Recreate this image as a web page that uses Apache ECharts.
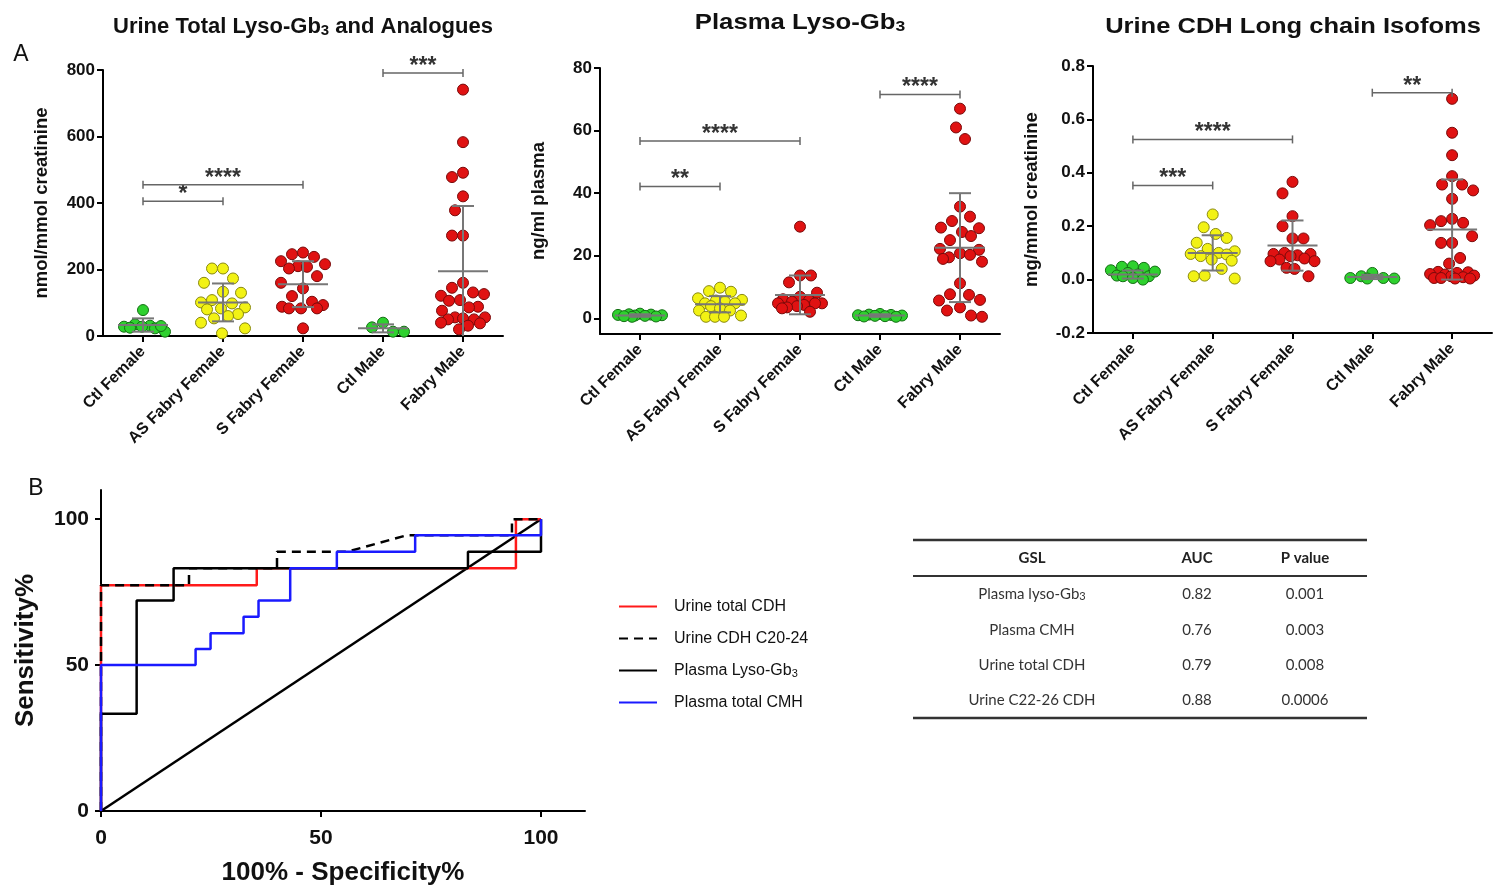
<!DOCTYPE html>
<html>
<head>
<meta charset="utf-8">
<script src="https://cdn.jsdelivr.net/npm/echarts@6/dist/echarts.min.js"></script>
<style>html,body{margin:0;padding:0;background:#fff}#main{width:1493px;height:887px}</style>
</head>
<body>
<div id="main"></div>
<script>
var groups = ['Ctl Female', 'AS Fabry Female', 'S Fabry Female', 'Ctl Male', 'Fabry Male'];

// urine total lyso-Gb3 (nmol/mmol creatinine)
var ctlF1 = [78, 35, 31, 28, 28, 25, 23, 13, 30];
var asF1 = [203, 203, 173, 160, 133, 130, 108, 101, 98, 86, 80, 83, 66, 60, 53, 40, 23, 8];
var sF1 = [251, 246, 238, 225, 216, 210, 208, 203, 180, 160, 143, 120, 103, 93, 88, 83, 83, 83, 23];
var ctlM1 = [40, 26, 13, 13];
var fM1 = [741, 583, 491, 478, 420, 378, 302, 302, 160, 145, 131, 126, 121, 108, 106, 88, 86, 76, 56, 56, 53, 50, 50, 40, 38, 31, 20];
var mean1 = [33, 101, 156, 23, 195];
var sd1 = [20, 57, 69, 12, 196];
var sig1 = [[0, 1, 405, '*'], [0, 2, 455, '****'], [3, 4, 791, '***']];
var ticks1 = [0, 200, 400, 600, 800];

// plasma lyso-Gb3 (ng/ml)
var ctlF2 = [1.5, 1.2, 1.0, 0.8, 0.6, 1.3, 0.9, 0.5, 1.1, 0.7];
var asF2 = [9.8, 8.7, 8.5, 6.4, 5.9, 5.7, 5.3, 4.8, 4.8, 3.9, 3.2, 2.5, 2.5, 0.9, 0.5, 0.5, 0.5];
var sF2 = [29.3, 13.7, 13.7, 11.5, 8.2, 6.9, 6.1, 5.7, 5.3, 4.8, 4.8, 4.8, 4.3, 3.9, 3.5, 3.2, 2.1];
var ctlM2 = [1.4, 1.1, 0.9, 0.7, 0.5, 1.2, 0.8, 1.0, 0.6];
var fM2 = [67, 61, 57.3, 35.7, 32.5, 31.1, 29, 28.8, 27.6, 26.3, 25, 22.2, 21.9, 20.8, 20.3, 19.5, 19, 18.1, 11.2, 7.7, 7.5, 5.9, 5.7, 3.5, 2.5, 0.9, 0.5];
var mean2 = [0.9, 4.5, 7.5, 0.9, 22.6];
var sd2 = [0.4, 2.6, 6.2, 0.4, 17.4];
var sig2 = [[0, 1, 42.1, '**'], [0, 2, 56.7, '****'], [3, 4, 71.5, '****']];
var ticks2 = [0, 20, 40, 60, 80];

// urine CDH long chain isoforms (mg/mmol creatinine)
var ctlF3 = [0.044, 0.05, 0.048, 0.035, 0.025, 0.019, 0.015, 0.0125, 0.0125, 0.006, 0.0, 0.03];
var asF3 = [0.244, 0.196, 0.171, 0.156, 0.138, 0.115, 0.106, 0.1, 0.096, 0.094, 0.088, 0.075, 0.071, 0.04, 0.015, 0.0125, 0.004];
var sF3 = [0.366, 0.323, 0.2375, 0.2, 0.154, 0.154, 0.1, 0.096, 0.096, 0.091, 0.0875, 0.079, 0.075, 0.069, 0.069, 0.044, 0.04, 0.0125];
var ctlM3 = [0.025, 0.0125, 0.006, 0.004, 0.004, 0.006];
var fM3 = [0.677, 0.55, 0.466, 0.3875, 0.356, 0.356, 0.334, 0.3025, 0.2275, 0.219, 0.2125, 0.204, 0.1625, 0.1375, 0.1375, 0.081, 0.06, 0.029, 0.0275, 0.025, 0.021, 0.019, 0.015, 0.0125, 0.009, 0.006, 0.006, 0.004, 0.004];
var mean3 = [0.019, 0.1, 0.1275, 0.01, 0.1875];
var sd3 = [0.015, 0.066, 0.094, 0.008, 0.1875];
var sig3 = [[0, 1, 0.3525, '***'], [0, 2, 0.525, '****'], [3, 4, 0.7, '**']];
var ticks3 = [-0.2, 0, 0.2, 0.4, 0.6, 0.8];

// ROC curves (100% - specificity, sensitivity)
var rocNames = ['Urine total CDH', 'Urine CDH C20-24', 'Plasma Lyso-Gb3', 'Plasma total CMH'];
var rocUrineCDH = [[0, 0], [0, 77.4], [35.4, 77.4], [35.4, 83.2], [94.3, 83.2], [94.3, 100], [100, 100]];
var rocUrineC20 = [[0, 0], [0, 77.4], [20, 77.4], [20, 83.2], [40, 83.2], [40, 88.8], [55.9, 88.8], [69.5, 94.5], [93.4, 94.5], [93.4, 100], [100, 100]];
var rocPlasmaLyso = [[0, 0], [0, 33.3], [8.1, 33.3], [8.1, 72.1], [16.5, 72.1], [16.5, 83.2], [83.4, 83.2], [83.4, 88.8], [100, 88.8], [100, 100]];
var rocPlasmaCMH = [[0, 0], [0, 50], [21.5, 50], [21.5, 55.5], [24.9, 55.5], [24.9, 60.9], [32.4, 60.9], [32.4, 66.6], [35.8, 66.6], [35.8, 72.1], [43, 72.1], [43, 83.2], [53.6, 83.2], [53.6, 88.8], [71.4, 88.8], [71.4, 94.5], [100, 94.5], [100, 100]];
var rocRef = [[0, 0], [100, 100]];
var rocTicks = [0, 50, 100];

// AUC table
var tblHead = ['GSL', 'AUC', 'P value'];
var tblGsl = ['Plasma lyso-Gb{s|3}', 'Plasma CMH', 'Urine total CDH', 'Urine C22-26 CDH'];
var tblAuc = ['0.82', '0.76', '0.79', '0.88'];
var tblP = ['0.001', '0.003', '0.008', '0.0006'];

var FONT = '"Liberation Sans", Arial, sans-serif';
var fill = ['#2ed12e', '#f2f214', '#e01212', '#2ed12e', '#e01212'];
var edge = ['#137013', '#8a8a10', '#7a0a0a', '#137013', '#7a0a0a'];

var grids = [
  {left: 103, top: 70, width: 400, height: 266},
  {left: 600, top: 68, width: 400, height: 266},
  {left: 1093, top: 66, width: 399, height: 267},
  {left: 101, top: 490, width: 484, height: 321}
];

var panels = [
  {vals: [ctlF1, asF1, sF1, ctlM1, fM1], mean: mean1, sd: sd1, sig: sig1, ticks: ticks1, min: 0, max: 800,
   name: 'nmol/mmol creatinine', fmt: function (v) { return String(v); }},
  {vals: [ctlF2, asF2, sF2, ctlM2, fM2], mean: mean2, sd: sd2, sig: sig2, ticks: ticks2, min: -5, max: 80,
   name: 'ng/ml plasma', fmt: function (v) { return String(v); }},
  {vals: [ctlF3, asF3, sF3, ctlM3, fM3], mean: mean3, sd: sd3, sig: sig3, ticks: ticks3, min: -0.2, max: 0.8,
   name: 'mg/mmol creatinine', fmt: function (v) { return v.toFixed(1); }}
];

// beeswarm-ish spread of the dots, kept inside +-W px of the group centre
function swarm(vals, ci, yPerPx, xPerPx) {
  var W = 22, dist = 11, k = 0.55, placed = [], out = new Array(vals.length);
  var idx = vals.map(function (v, i) { return i; }).sort(function (a, b) { return vals[b] - vals[a]; });
  idx.forEach(function (i, n) {
    var py = vals[i] / yPerPx, best = 0, bestD = -1, sgn = n % 2 ? -1 : 1;
    for (var c = 0; c <= 2 * W; c++) {
      var cand = sgn * (c % 2 ? 1 : -1) * Math.ceil(c / 2);
      var md = Infinity;
      placed.forEach(function (p) {
        var a = cand - p[0], b = (py - p[1]) * k;
        md = Math.min(md, Math.sqrt(a * a + b * b));
      });
      if (md >= dist) { best = cand; break; }
      if (md > bestD) { bestD = md; best = cand; }
    }
    placed.push([best, py]);
    out[i] = [ci + 0.5 + best * xPerPx, vals[i]];
  });
  return out;
}

var grey = '#777';
function errRender(params, api) {
  var c = api.coord([api.value(0), api.value(1)]);
  var lo = api.coord([api.value(0), api.value(2)]);
  var hi = api.coord([api.value(0), api.value(3)]);
  var cs = params.coordSys;
  var bottom = cs.y + cs.height;
  var loY = Math.min(lo[1], bottom);
  var st = {stroke: grey, lineWidth: 2};
  var kids = [
    {type: 'line', shape: {x1: c[0] - 25, y1: c[1], x2: c[0] + 25, y2: c[1]}, style: st},
    {type: 'line', shape: {x1: c[0], y1: loY, x2: c[0], y2: hi[1]}, style: st},
    {type: 'line', shape: {x1: c[0] - 11, y1: hi[1], x2: c[0] + 11, y2: hi[1]}, style: st}
  ];
  if (lo[1] < bottom) kids.push({type: 'line', shape: {x1: c[0] - 11, y1: lo[1], x2: c[0] + 11, y2: lo[1]}, style: st});
  return {type: 'group', children: kids};
}

function sigRender(list) {
  return function (params, api) {
    var a = api.coord([api.value(0), api.value(2)]);
    var b = api.coord([api.value(1), api.value(2)]);
    var st = {stroke: '#666', lineWidth: 1.5};
    return {type: 'group', children: [
      {type: 'line', shape: {x1: a[0], y1: a[1], x2: b[0], y2: b[1]}, style: st},
      {type: 'line', shape: {x1: a[0], y1: a[1] - 4, x2: a[0], y2: a[1] + 4}, style: st},
      {type: 'line', shape: {x1: b[0], y1: b[1] - 4, x2: b[0], y2: b[1] + 4}, style: st},
      {type: 'text', style: {text: list[params.dataIndex][3], x: (a[0] + b[0]) / 2, y: a[1] + 5,
        align: 'center', verticalAlign: 'bottom', font: 'bold 23px ' + FONT, fill: '#333'}}
    ]};
  };
}

var xAxes = [], yAxes = [], series = [];
var axisLine = {show: true, onZero: false, lineStyle: {color: '#000', width: 2}};
var axisTick = {show: true, length: 6, lineStyle: {color: '#000', width: 2}};
var catPos = [0.5, 1.5, 2.5, 3.5, 4.5];

panels.forEach(function (p, i) {
  var g = grids[i];
  xAxes.push({
    gridIndex: i, type: 'value', min: 0, max: 5, splitLine: {show: false},
    axisLine: axisLine,
    axisTick: Object.assign({customValues: catPos}, axisTick),
    axisLabel: {customValues: catPos, rotate: 45, margin: 13, color: '#111', fontFamily: FONT,
      fontWeight: 'bold', fontSize: 16, formatter: function (v) { return groups[Math.floor(v)]; }}
  });
  yAxes.push({
    gridIndex: i, type: 'value', min: p.min, max: p.max, splitLine: {show: false},
    axisLine: axisLine,
    axisTick: Object.assign({customValues: p.ticks}, axisTick),
    axisLabel: {customValues: p.ticks, color: '#111', fontFamily: FONT, fontWeight: 'bold', fontSize: 17,
      margin: 8, formatter: p.fmt},
    name: p.name, nameLocation: 'middle', nameGap: 52,
    nameTextStyle: {color: '#111', fontFamily: FONT, fontWeight: 'bold', fontSize: 18.5}
  });
  var yPerPx = (p.max - p.min) / g.height, xPerPx = 5 / g.width;
  p.vals.forEach(function (vals, ci) {
    series.push({
      type: 'scatter', xAxisIndex: i, yAxisIndex: i, symbolSize: 11, z: 2, silent: true,
      itemStyle: {color: fill[ci], borderColor: edge[ci], borderWidth: 1, opacity: 1},
      data: swarm(vals, ci, yPerPx, xPerPx)
    });
  });
  series.push({
    type: 'custom', xAxisIndex: i, yAxisIndex: i, z: 3, silent: true, renderItem: errRender,
    data: p.mean.map(function (m, ci) { return [ci + 0.5, m, m - p.sd[ci], m + p.sd[ci]]; })
  });
  series.push({
    type: 'custom', xAxisIndex: i, yAxisIndex: i, z: 3, silent: true, renderItem: sigRender(p.sig),
    data: p.sig.map(function (s) { return [s[0] + 0.5, s[1] + 0.5, s[2]]; })
  });
});

// ROC panel
xAxes.push({
  gridIndex: 3, type: 'value', min: 0, max: 110, splitLine: {show: false},
  axisLine: axisLine, axisTick: Object.assign({customValues: rocTicks}, axisTick),
  axisLabel: {customValues: rocTicks, color: '#111', fontFamily: FONT, fontWeight: 'bold', fontSize: 21, margin: 17},
  name: '100% - Specificity%', nameLocation: 'middle', nameGap: 49,
  nameTextStyle: {color: '#111', fontFamily: FONT, fontWeight: 'bold', fontSize: 26}
});
yAxes.push({
  gridIndex: 3, type: 'value', min: 0, max: 110, splitLine: {show: false},
  axisLine: axisLine, axisTick: Object.assign({customValues: rocTicks}, axisTick),
  axisLabel: {customValues: rocTicks, color: '#111', fontFamily: FONT, fontWeight: 'bold', fontSize: 21, margin: 12},
  name: 'Sensitivity%', nameLocation: 'middle', nameGap: 62,
  nameTextStyle: {color: '#111', fontFamily: FONT, fontWeight: 'bold', fontSize: 26}
});

function rocLine(name, data, color, type) {
  return {type: 'line', name: name, xAxisIndex: 3, yAxisIndex: 3, data: data, symbol: 'none', silent: true,
    lineStyle: {color: color, width: 2.5, type: type || 'solid'}, itemStyle: {color: color}};
}
series.push(rocLine('ref', rocRef, '#000'));
series.push(rocLine(rocNames[0], rocUrineCDH, '#ff1a1a'));
series.push(rocLine(rocNames[1], rocUrineC20, '#000', [9, 6]));
series.push(rocLine(rocNames[2], rocPlasmaLyso, '#000'));
series.push(rocLine(rocNames[3], rocPlasmaCMH, '#1a1aff'));

var graphic = [];
function label(text, x, y, size, weight, extra, sx) {
  graphic.push({type: 'text', x: x, y: y, scaleX: sx || 1, silent: true, style: Object.assign({
    text: text, align: 'center', verticalAlign: 'middle', font: weight + ' ' + size + 'px ' + FONT, fill: '#111'
  }, extra || {})});
}
var subRich = {s: {font: 'bold 15px ' + FONT, verticalAlign: 'bottom', lineHeight: 15, padding: [10, 0, 0, 0], fill: '#111'}};
label('Urine Total Lyso-Gb{s|3} and Analogues', 303, 27, 22, 'bold', {rich: subRich});
label('Plasma Lyso-Gb{s|3}', 800, 23, 22, 'bold', {rich: subRich}, 1.17);
label('Urine CDH Long chain Isofoms', 1293, 27, 22, 'bold', null, 1.16);
label('A', 21, 55, 23, 'normal');
label('B', 36, 489, 23, 'normal');

// AUC table
var TF = 'Lato, "Open Sans", sans-serif';
var colX = [1032, 1197, 1305], rowY = [594, 630, 665, 700];
[[540, 2.5], [576, 2], [718, 2.5]].forEach(function (l) {
  graphic.push({type: 'line', silent: true, shape: {x1: 913, y1: l[0], x2: 1367, y2: l[0]},
    style: {stroke: '#333', lineWidth: l[1]}});
});
tblHead.forEach(function (h, j) {
  graphic.push({type: 'text', x: colX[j], y: 558, silent: true,
    style: {text: h, align: 'center', verticalAlign: 'middle', font: 'bold 15px ' + TF, fill: '#222'}});
});
var tRich = {s: {font: '11px ' + TF, verticalAlign: 'bottom', lineHeight: 11, padding: [8, 0, 0, 0], fill: '#333'}};
[tblGsl, tblAuc, tblP].forEach(function (col, j) {
  col.forEach(function (t, r) {
    graphic.push({type: 'text', x: colX[j], y: rowY[r], silent: true,
      style: {text: t, align: 'center', verticalAlign: 'middle', font: '15px ' + TF, fill: '#333', rich: tRich}});
  });
});

var chart = echarts.init(document.getElementById('main'));
chart.setOption({
  animation: false,
  backgroundColor: '#fff',
  grid: grids,
  xAxis: xAxes,
  yAxis: yAxes,
  legend: {
    data: rocNames, orient: 'vertical', left: 613, top: 593, itemWidth: 38, itemHeight: 14, itemGap: 15,
    itemStyle: {opacity: 0},
    textStyle: {fontFamily: FONT, fontSize: 16, lineHeight: 17, color: '#111', padding: [0, 0, 0, 12],
      rich: {s: {fontFamily: FONT, fontSize: 11, verticalAlign: 'bottom', lineHeight: 11, padding: [6, 0, 0, 0], color: '#111'}}},
    formatter: function (n) { return n === 'Plasma Lyso-Gb3' ? 'Plasma Lyso-Gb{s|3}' : n; }
  },
  graphic: graphic,
  series: series
});
</script>
</body>
</html>
